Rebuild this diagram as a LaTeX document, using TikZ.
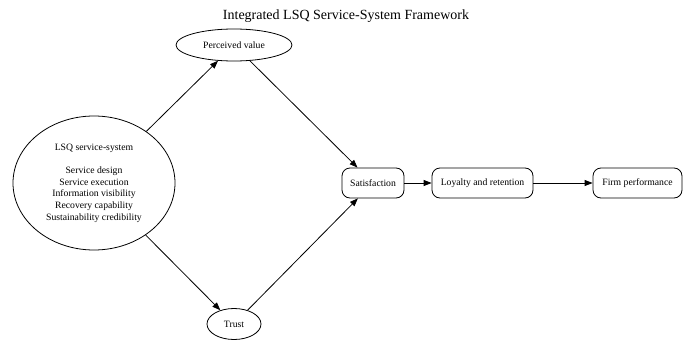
\documentclass[tikz,border=0pt]{standalone}
\usepackage{fontspec}
\setmainfont{Liberation Serif}
\usepackage{tikz}
\usetikzlibrary{shapes.geometric, arrows.meta, positioning}
\definecolor{mydark}{RGB}{0,0,0}
\tikzset{
  ovalnode/.style={ellipse, draw=mydark, fill=white, inner sep=0pt,
    align=center, font=\fontsize{9.7}{11.7}\selectfont, line width=0.8pt},
  boxnode/.style={rectangle, draw=mydark, fill=white, inner sep=0pt,
    minimum height=30pt, align=center, font=\fontsize{9.7}{11.7}\selectfont,
    rounded corners=8pt, line width=0.8pt},
  arrow/.style={-{Triangle[length=8pt, width=6pt]}, line width=0.8pt, color=mydark}
}

\begin{document}
\begin{tikzpicture}[x=1pt, y=-1pt]
  \useasboundingbox (0,0) rectangle (688,340);
  \node[font=\fontsize{14}{16}\selectfont] (title) at (346,16) {Integrated LSQ Service-System Framework};
  \node[ovalnode, minimum width=162pt, minimum height=134pt] (lsq) at (94,183)
    {LSQ service-system\\[11.7pt] Service design\\ Service execution\\ Information visibility\\ Recovery capability\\ Sustainability credibility};
  \node[ovalnode, minimum width=116pt, minimum height=32pt] (value) at (234,45) {Perceived value};
  \node[ovalnode, minimum width=54pt, minimum height=31pt] (trust) at (234,324) {Trust};
  \node[boxnode, minimum width=62pt] (satis) at (373,183) {Satisfaction};
  \node[boxnode, minimum width=101pt] (loyal) at (482.5,183) {Loyalty and retention};
  \node[boxnode, minimum width=89pt] (firm) at (637.5,183) {Firm performance};
  \draw[arrow] (lsq) -- (value);
  \draw[arrow] (lsq) -- (trust);
  \draw[arrow] (value) -- (satis);
  \draw[arrow] (trust) -- (satis);
  \draw[arrow] (satis) -- (loyal);
  \draw[arrow] (loyal) -- (firm);
\end{tikzpicture}
\end{document}
